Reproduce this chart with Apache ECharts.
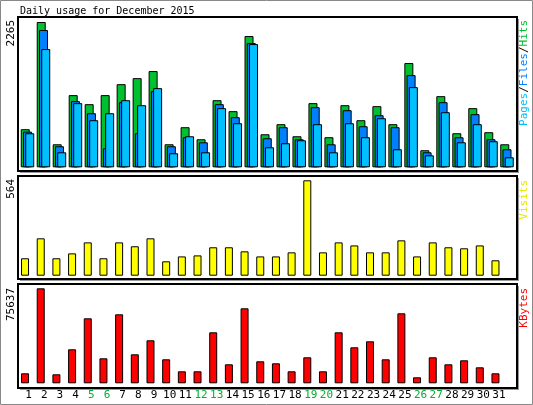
<!DOCTYPE html>
<html><head><meta charset="utf-8">
<script src="https://cdn.jsdelivr.net/npm/echarts@6/dist/echarts.min.js"></script>
<style>html,body{margin:0;padding:0;background:#fff}#c{width:533px;height:405px}</style>
</head><body><div id="c"></div>
<script>
const days = Array.from({length:31},(_,i)=>String(i+1));
const weekend = ['5','6','12','13','19','20','26','27'];
const hits  = [594,2265,359,1125,984,1125,1296,1390,1500,359,625,437,1046,875,2046,515,672,484,1000,469,968,734,953,672,1625,266,1109,531,922,547,359];
const files = [556,2140,328,1031,843,297,1015,531,1187,328,469,390,984,781,1937,453,625,437,937,359,890,640,812,625,1437,234,1015,468,828,437,281];
const pages = [531,1843,234,1000,734,843,1046,968,1234,219,484,234,922,687,1921,312,375,421,672,234,687,469,765,281,1250,187,859,390,672,406,156];
const visits = [103,221,103,132,197,103,197,174,221,85,114,120,168,168,144,114,114,138,564,138,197,179,138,138,209,114,197,168,162,179,91];
const kbytes = [7962,75637,7166,27071,51753,19905,54938,23090,34237,19109,9554,9554,40606,15128,59715,17516,15924,9554,20701,9554,40606,28663,33440,19109,55734,4777,20701,15128,18313,12739,7962];
const maxLabels = ['2265','564','75637'];

const F = 'DejaVu Sans Mono';
const chart = echarts.init(document.getElementById('c'));
const bs = {borderColor:'#000',borderWidth:1};
function panel(x,y,w,h){return [
  {type:'rect',shape:{x:x+2,y:y+2,width:w,height:h},style:{fill:'#999'},z:-2},
  {type:'rect',shape:{x:x,y:y,width:w,height:h},style:{fill:'#fff',stroke:'#000',lineWidth:2},z:-1}];}
function vtext(x,y,text,color,rich){return {type:'text',x:x,y:y,rotation:Math.PI/2,z:10,
  style:{text:text,fill:color,font:'11px '+F,align:'right',verticalAlign:'middle',rich:rich}};}
const cats = {type:'category',data:days,axisLine:{show:false},axisTick:{show:false},axisLabel:{show:false}};
const vals = m=>({type:'value',min:0,max:m,show:false,splitLine:{show:false}});
chart.setOption({
  animation:false,
  graphic:[
    {type:'rect',shape:{x:0.5,y:0.5,width:532,height:404},style:{fill:'none',stroke:'#888',lineWidth:1}},
    ...panel(18,17,499,154),...panel(18,176,499,103),...panel(18,284,499,104),
    {type:'text',x:20,y:11,style:{text:'Daily usage for December 2015',font:'10px '+F,fill:'#000',verticalAlign:'middle'}},
    vtext(11,20,maxLabels[0],'#000'),
    vtext(11,179,maxLabels[1],'#000'),
    vtext(11,288,maxLabels[2],'#000'),
    vtext(524,20,'{p|Pages}/{f|Files}/{h|Hits}','#000',{p:{fill:'#00c0ff',font:'11px '+F},f:{fill:'#0080ff',font:'11px '+F},h:{fill:'#00c030',font:'11px '+F}}),
    vtext(524,180,'Visits','#e8e800'),
    vtext(524,288,'KBytes','#ff0000')
  ],
  grid:[
    {left:19.5,right:18,top:22,height:145.3},
    {left:17.2,right:29.7,top:180.3,height:95.4},
    {left:17.2,right:29.7,top:288.3,height:95}
  ],
  xAxis:[{...cats,gridIndex:0},{...cats,gridIndex:1},{...cats,gridIndex:2,
    axisLabel:{show:true,margin:6,padding:[0,0,0,7],fontFamily:F,fontSize:11,interval:0,
      color:(v)=>weekend.includes(v)?'#00b030':'#000'}}],
  yAxis:[{...vals(2265),gridIndex:0},{...vals(564),gridIndex:1},{...vals(75637),gridIndex:2}],
  series:[
    {type:'bar',name:'Hits',data:hits,xAxisIndex:0,yAxisIndex:0,barWidth:9,barGap:'-75%',itemStyle:{color:'#00c030',...bs}},
    {type:'bar',name:'Files',data:files,xAxisIndex:0,yAxisIndex:0,barWidth:9,barGap:'-75%',itemStyle:{color:'#0080ff',...bs}},
    {type:'bar',name:'Pages',data:pages,xAxisIndex:0,yAxisIndex:0,barWidth:9,barGap:'-75%',itemStyle:{color:'#00c0ff',...bs}},
    {type:'bar',name:'Visits',data:visits,xAxisIndex:1,yAxisIndex:1,barWidth:8,itemStyle:{color:'#ffff00',...bs}},
    {type:'bar',name:'KBytes',data:kbytes,xAxisIndex:2,yAxisIndex:2,barWidth:8,itemStyle:{color:'#ff0000',...bs}}
  ]
});
</script></body></html>
